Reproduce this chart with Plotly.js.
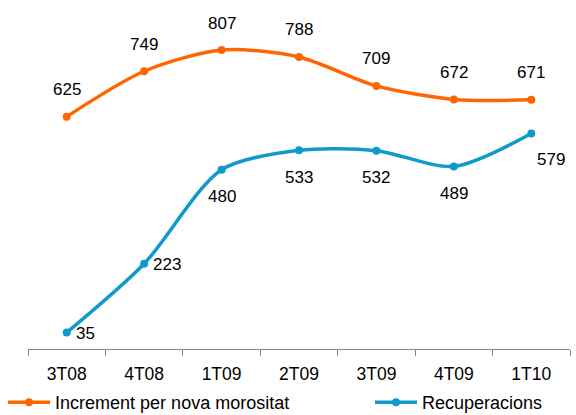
<!DOCTYPE html>
<html><head><meta charset="utf-8">
<script src="https://cdn.plot.ly/plotly-3.0.1.min.js"></script>
<style>html,body{margin:0;padding:0;background:#fff}#c{width:576px;height:415px}</style>
</head><body><div id="c"></div>
<script>
const categories = ["3T08","4T08","1T09","2T09","3T09","4T09","1T10"];
const incrementValues = [625,749,807,788,709,672,671];
const recuperacionsValues = [35,223,480,533,532,489,579];
const seriesNames = ["Increment per nova morositat","Recuperacions"];
const recupLabelPos = ["right","right","below","below","below","below","belowright"];

const orange = "#FF6600", blue = "#0F9ACB";
const font = {family:"Liberation Sans, Arial, sans-serif", size:17, color:"#000"};
const tickFont = {family:"Liberation Sans, Arial, sans-serif", size:17.5, color:"#000"};
const legendFont = {family:"Liberation Sans, Arial, sans-serif", size:18, color:"#000"};

const traces = [
  {x:categories, y:incrementValues, name:seriesNames[0], type:"scatter", mode:"lines+markers",
   line:{color:orange, width:3.5, shape:"spline", smoothing:0.8}, marker:{color:orange, size:8},
   legend:"legend"},
  {x:categories, y:recuperacionsValues, name:seriesNames[1], type:"scatter", mode:"lines+markers",
   line:{color:blue, width:3.5, shape:"spline", smoothing:0.8}, marker:{color:blue, size:8},
   legend:"legend2"}
];

const annotations = [];
categories.forEach((c,i)=>{
  annotations.push({x:c, y:incrementValues[i], text:String(incrementValues[i]), showarrow:false,
    yshift:27, font:font});
  const p = recupLabelPos[i];
  let a = {x:c, y:recuperacionsValues[i], text:String(recuperacionsValues[i]), showarrow:false, font:font};
  if (p==="right"){a.xanchor="left"; a.xshift=7; a.yshift=-1;}
  else if (p==="below"){a.yshift=-27;}
  else {a.xanchor="left"; a.xshift=4; a.yshift=-26;}
  annotations.push(a);
});

const legendBase = {orientation:"h", xref:"paper", yref:"paper", y:-0.161, yanchor:"middle",
  font:legendFont, itemwidth:42, bgcolor:"rgba(0,0,0,0)"};

const layout = {
  width:576, height:415,
  margin:{l:28, r:6, t:16, b:66, autoexpand:false},
  paper_bgcolor:"#fff", plot_bgcolor:"#fff",
  font:font,
  showlegend:true,
  legend:Object.assign({}, legendBase, {x:-0.046}),
  legend2:Object.assign({}, legendBase, {x:0.631}),
  xaxis:{type:"category", range:[-0.5,6.5], showline:true, linecolor:"#888", linewidth:1,
    ticks:"outside", tickson:"boundaries", ticklen:6, tickcolor:"#888", showgrid:false, zeroline:false,
    tickfont:tickFont, ticklabelstandoff:9, fixedrange:true},
  yaxis:{range:[-10,900], visible:false, showgrid:false, zeroline:false},
  annotations:annotations
};
Plotly.newPlot("c", traces, layout, {displayModeBar:false, staticPlot:true});
</script></body></html>
